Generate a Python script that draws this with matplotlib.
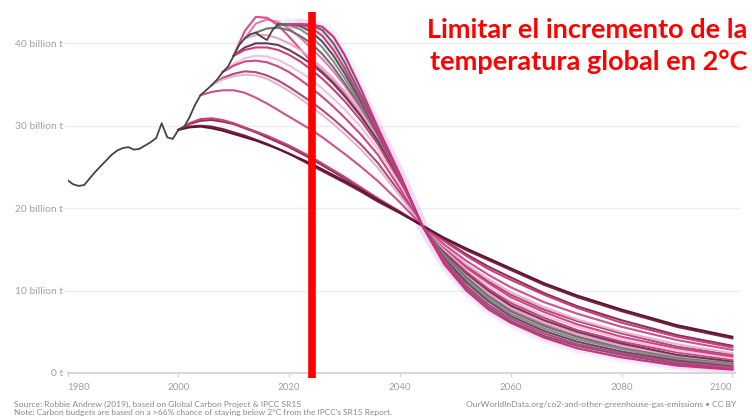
import numpy as np
import matplotlib
matplotlib.use("Agg")
import matplotlib.pyplot as plt

plt.rcParams['font.family'] = ['Lato', 'DejaVu Sans']

# ---------------- data ----------------
hist_years = list(range(1980, 2019))
hist_values = [23.4, 22.9, 22.7, 22.8, 23.6, 24.4, 25.1, 25.8, 26.5, 27.0,
               27.3, 27.4, 27.1, 27.2, 27.6, 28.0, 28.5, 30.3, 28.6, 28.4,
               29.5, 29.8, 31.0, 32.5, 33.7, 34.3, 34.9, 35.6, 36.5, 37.2,
               38.5, 39.8, 40.6, 41.1, 41.3, 40.8, 40.4, 41.6, 42.3]

grid_years = [2000, 2002, 2004, 2006, 2008, 2010, 2012, 2014, 2016, 2018,
              2020, 2022, 2024, 2026, 2028, 2030, 2033, 2036, 2040, 2044,
              2048, 2052, 2056, 2060, 2066, 2072, 2080, 2090, 2100]
N = None
curve_a = [29.5, 29.8, 29.9, 29.7, 29.4, 29.0, 28.6, 28.2, 27.7, 27.2,
           26.6, 26.0, 25.4, 24.7, 24.0, 23.3, 22.2, 21.0, 19.5, 17.9,
           16.4, 15.1, 13.9, 12.7, 10.9, 9.4, 7.7, 5.8, 4.4]
curve_b = [29.5, 29.9, 30.0, 29.9, 29.6, 29.2, 28.8, 28.3, 27.8, 27.2,
           26.6, 25.9, 25.2, 24.5, 23.8, 23.1, 22.0, 20.8, 19.4, 17.9,
           16.3, 14.9, 13.7, 12.5, 10.7, 9.2, 7.5, 5.6, 4.2]
curve_c = [29.5, 30.3, 30.8, 30.9, 30.7, 30.3, 29.8, 29.3, 28.8, 28.2,
           27.6, 26.9, 26.2, 25.4, 24.6, 23.8, 22.5, 21.2, 19.6, 17.9,
           16.0, 14.2, 12.6, 11.3, 9.5, 7.9, 6.1, 4.4, 3.1]
curve_d = [29.5, 30.2, 30.6, 30.7, 30.5, 30.2, 29.7, 29.2, 28.6, 28.0,
           27.4, 26.7, 26.0, 25.2, 24.4, 23.6, 22.4, 21.1, 19.5, 17.9,
           16.1, 14.4, 12.9, 11.6, 9.7, 8.1, 6.4, 4.6, 3.3]
curve_e = [N, N, 33.7, 34.1, 34.3, 34.3, 34.0, 33.4, 32.7, 31.9,
           31.1, 30.3, 29.5, 28.6, 27.6, 26.6, 25.0, 23.3, 20.7, 17.9,
           15.6, 13.6, 11.9, 10.4, 8.6, 7.2, 5.6, 4.0, 2.8]
curve_f = [N, N, N, 34.9, 35.6, 36.0, 36.2, 36.1, 35.7, 35.0,
           34.2, 33.3, 32.3, 31.3, 30.2, 29.0, 27.1, 24.9, 21.5, 17.9,
           15.4, 13.2, 11.4, 9.8, 8.0, 6.5, 5.0, 3.5, 2.4]
curve_g = [N, N, N, 34.9, 35.8, 36.3, 36.6, 36.5, 36.1, 35.5,
           34.7, 33.8, 32.9, 31.9, 30.8, 29.6, 27.7, 25.5, 21.9, 17.9,
           15.3, 13.0, 11.1, 9.5, 7.7, 6.3, 4.8, 3.2, 2.2]
curve_h = [N, N, N, N, 36.5, 37.3, 37.8, 37.9, 37.7, 37.2,
           36.5, 35.6, 34.6, 33.5, 32.3, 31.0, 28.9, 26.5, 22.4, 17.9,
           15.2, 12.8, 10.9, 9.2, 7.4, 5.9, 4.4, 3.0, 2.0]
curve_i = [N, N, N, N, 36.5, 37.5, 38.2, 38.5, 38.4, 38.0,
           37.3, 36.5, 35.6, 34.5, 33.3, 32.0, 29.8, 27.2, 22.8, 17.9,
           15.0, 12.6, 10.5, 8.8, 7.0, 5.6, 4.1, 2.7, 1.8]
curve_j = [N, N, N, N, N, 38.5, 39.2, 39.5, 39.5, 39.2,
           38.6, 37.8, 36.8, 35.7, 34.4, 33.0, 30.6, 27.8, 23.1, 17.9,
           14.9, 12.3, 10.2, 8.5, 6.7, 5.2, 3.8, 2.5, 1.6]
curve_k = [N, N, N, N, N, 38.5, 39.5, 40.0, 40.0, 39.8,
           39.2, 38.4, 37.5, 36.4, 35.1, 33.6, 31.1, 28.2, 23.3, 17.9,
           14.7, 12.1, 10.0, 8.2, 6.4, 5.0, 3.6, 2.2, 1.4]
curve_m = [N, N, N, N, N, 38.5, 41.5, 43.2, 43.1, 42.2,
           40.8, 39.3, 37.8, 36.6, 35.3, 33.9, 31.3, 28.3, 23.4, 17.9,
           14.7, 12.0, 9.8, 8.0, 6.0, 4.7, 3.4, 2.1, 1.35]
curve_l = [N, N, N, N, N, N, 40.6, 41.0, 41.0, 40.6,
           40.0, 39.2, 38.2, 37.0, 35.7, 34.2, 31.6, 28.5, 23.5, 17.9,
           14.6, 11.9, 9.7, 7.9, 6.1, 4.7, 3.3, 2.1, 1.3]
curve_n = [N, N, N, N, N, N, 40.6, 42.4, 42.9, 42.6,
           41.8, 40.7, 39.4, 38.1, 36.6, 34.9, 32.0, 28.7, 23.6, 17.9,
           14.5, 11.7, 9.5, 7.7, 5.8, 4.4, 3.1, 1.9, 1.15]
curve_o = [N, N, N, N, N, N, N, 41.3, 41.8, 41.9,
           41.6, 40.9, 40.0, 38.7, 37.1, 35.2, 32.3, 28.9, 23.7, 17.9,
           14.4, 11.6, 9.3, 7.5, 5.7, 4.4, 3.0, 1.8, 1.1]
curve_p = [N, N, N, N, N, N, N, N, N, 42.3,
           42.2, 41.7, 40.8, 39.5, 37.8, 35.8, 32.6, 29.0, 23.8, 17.9,
           14.1, 11.3, 9.0, 7.2, 5.4, 4.1, 2.9, 1.7, 1.0]
curve_q = [N, N, N, N, N, N, N, N, N, 42.3,
           42.3, 42.1, 41.4, 40.2, 38.5, 36.4, 32.9, 29.1, 23.85, 17.9,
           13.9, 11.0, 8.7, 6.9, 5.1, 3.8, 2.6, 1.5, 0.8]
curve_r = [N, N, N, N, N, N, N, N, N, N,
           42.3, 42.3, 41.9, 40.9, 39.2, 37.0, 33.2, 29.3, 23.9, 17.9,
           13.7, 10.6, 8.3, 6.6, 4.8, 3.5, 2.4, 1.3, 0.7]
curve_s = [N, N, N, N, N, N, N, N, N, 42.3,
           42.3, 42.3, 42.2, 41.6, 40.0, 37.7, 33.7, 29.5, 24.0, 17.9,
           13.5, 10.3, 8.0, 6.3, 4.5, 3.3, 2.2, 1.1, 0.5]
curve_t = [N, N, N, N, N, N, N, N, N, N,
           N, 42.3, 42.3, 42.0, 40.8, 38.6, 34.4, 29.8, 24.1, 17.9,
           13.2, 10.0, 7.7, 6.1, 4.3, 3.0, 1.9, 0.9, 0.4]

y_ticks = [0, 10, 20, 30, 40]
y_tick_labels = ["0 t", "10 billion t", "20 billion t", "30 billion t", "40 billion t"]
x_ticks = [1980, 2000, 2020, 2040, 2060, 2080, 2100]
x_tick_labels = ["1980", "2000", "2020", "2040", "2060", "2080", "2100"]
marker_year = 2024.1
title_lines = ["Limitar el incremento de la", "temperatura global en 2°C"]
source_text = "Source: Robbie Andrew (2019), based on Global Carbon Project & IPCC SR15"
note_text = "Note: Carbon budgets are based on a >66% chance of staying below 2°C from the IPCC's SR15 Report."
owid_text = "OurWorldInData.org/co2-and-other-greenhouse-gas-emissions • CC BY"

# --------------- drawing ---------------
W, H = 752, 418
fig = plt.figure(figsize=(W / 100, H / 100), dpi=100)
fig.patch.set_facecolor('white')
ax = fig.add_axes([67.5 / W, 45 / H, 667.6 / W, 361 / H])
ax.set_xlim(1980, 2100.5)
ax.set_ylim(0, 43.8)
for s in ['top', 'right', 'left']:
    ax.spines[s].set_visible(False)
ax.spines['bottom'].set_color('#d6d6d6')
ax.spines['bottom'].set_linewidth(1.4)

# gridlines
for v in y_ticks[1:]:
    ax.plot([1979.6, 2101.2], [v, v], color='#ededed', lw=1.0, zorder=0, clip_on=False)

gx = np.array(grid_years, dtype=float)
def arr(c):
    return np.array([np.nan if v is None else v for v in c], dtype=float)

# purple haze around the steep fan
for c in [curve_t, curve_s, curve_r]:
    ax.plot(gx, arr(c), color='#b07fd0', lw=8, alpha=0.09, solid_capstyle='round', zorder=1)

curves = [
    (curve_n, '#e27ab0'), (curve_m, '#d84c93'), (curve_l, '#e4a5c6'),
    (curve_k, '#6b3a52'), (curve_j, '#c7407f'), (curve_i, '#edc3d9'),
    (curve_h, '#d4458a'), (curve_g, '#b04a7a'), (curve_f, '#e8b2cf'),
    (curve_e, '#d0508e'), (curve_d, '#8e2f58'), (curve_c, '#c4417f'),
    (curve_b, '#7a2346'), (curve_a, '#5e1631'),
    (curve_o, '#707070'), (curve_p, '#8a8a8a'), (curve_q, '#555555'),
    (curve_s, '#666666'), (curve_r, '#cf3a86'), (curve_t, '#d42c80'),
]
for c, col in curves:
    ax.plot(gx, arr(c), color=col, lw=1.5, zorder=2, solid_joinstyle='round')

ax.plot(hist_years, hist_values, color='#444444', lw=1.3, zorder=3)

# red marker line
ax.plot([marker_year, marker_year], [-0.6, 43.8], color='#ff0000', lw=5.5,
        solid_capstyle='butt', zorder=10, clip_on=False)

# ticks
ax.set_yticks(y_ticks)
ax.set_yticklabels(y_tick_labels)
ax.tick_params(axis='y', length=0, pad=3.5, labelsize=7.4, labelcolor='#a0a0a0')
ax.set_xticks(x_ticks)
ax.set_xticklabels(x_tick_labels)
ax.tick_params(axis='x', length=3, width=0.8, color='#d6d6d6', pad=4,
               labelsize=7.0, labelcolor='#a0a0a0')
labs = ax.get_xticklabels()
labs[0].set_ha('left')
labs[-1].set_ha('right')

# title text
fig.text(587 / W, 1 - 30 / H, title_lines[0], color='#ff0000', fontsize=19.5,
         fontweight='bold', ha='center', va='center')
fig.text(589 / W, 1 - 62 / H, title_lines[1], color='#ff0000', fontsize=19.5,
         fontweight='bold', ha='center', va='center')

# footer
fig.text(14 / W, 1 - 404 / H, source_text, fontsize=6.1, color='#8a8a8a', ha='left', va='center')
fig.text(14 / W, 1 - 413 / H, note_text, fontsize=6.0, color='#8a8a8a', ha='left', va='center')
fig.text(736 / W, 1 - 404 / H, owid_text, fontsize=6.1, color='#8a8a8a', ha='right', va='center')

fig.savefig('out.png', dpi=100)
